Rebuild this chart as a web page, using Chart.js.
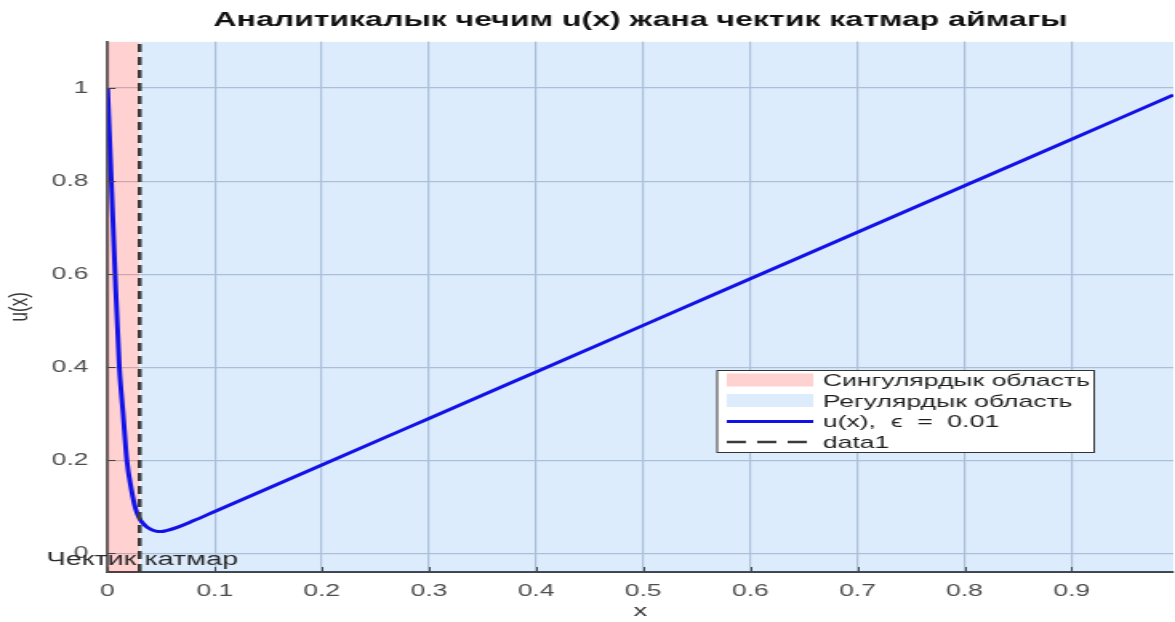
<!DOCTYPE html>
<html>
<head>
<meta charset="utf-8">
<script src="https://cdn.jsdelivr.net/npm/chart.js@4/dist/chart.umd.min.js"></script>
<style>
  html, body { margin: 0; padding: 0; background: #ffffff; overflow: hidden; }
</style>
</head>
<body>
<canvas id="c" width="734" height="622" style="display:block;width:1175px;height:622px;"></canvas>
<script>
// ---- data ----
const chartTitle = 'Аналитикалык чечим u(x) жана чектик катмар аймагы';
const xAxisTitle = 'x';
const yAxisTitle = 'u(x)';
const boundaryText = 'Чектик катмар';
const seriesLabels = ['Сингулярдык область', 'Регулярдык область', 'u(x),  ϵ  =  0.01', 'data1'];

const xValues = [0, 0.0035, 0.007, 0.011, 0.0145, 0.018, 0.022, 0.026, 0.03, 0.035, 0.04, 0.045, 0.05, 0.055, 0.065, 0.08, 0.1, 0.2, 0.3, 0.4, 0.5, 0.6, 0.7, 0.8, 0.9, 0.995];
const uValues = [1.0, 0.8, 0.6, 0.4, 0.3, 0.2, 0.14, 0.097, 0.074, 0.06, 0.052, 0.048, 0.047, 0.049, 0.056, 0.07, 0.09, 0.19, 0.29, 0.39, 0.49, 0.59, 0.69, 0.79, 0.89, 0.985];

const singularRange = [0, 0.03];
const regularRange = [0.03, 0.995];
const boundaryX = 0.03;
const xRange = [0, 0.995];
const yRange = [-0.04, 1.1];

const xTicks = [0, 0.1, 0.2, 0.3, 0.4, 0.5, 0.6, 0.7, 0.8, 0.9];
const xTickLabels = ['0', '0.1', '0.2', '0.3', '0.4', '0.5', '0.6', '0.7', '0.8', '0.9'];
const yTicks = [0, 0.2, 0.4, 0.6, 0.8, 1];
const yTickLabels = ['0', '0.2', '0.4', '0.6', '0.8', '1'];

// ---- styles ----
const FONT = "'Liberation Sans', Arial, Helvetica, sans-serif";
const pinkFill = 'rgba(255,0,0,0.18)';
const blueFill = 'rgba(30,130,240,0.15)';
const curveColor = '#1212e8';
const dashColor = '#3a3a3a';
const gridColor = '#c3ccd6';

const curveData = xValues.map((x, i) => ({ x: x, y: uValues[i] }));

const boxLegend = {
  id: 'boxLegend',
  afterDraw(chart, args, o) {
    const ctx = chart.ctx;
    ctx.save();
    ctx.fillStyle = '#ffffff';
    ctx.fillRect(o.left, o.top, o.width, o.height);
    ctx.strokeStyle = '#333';
    ctx.lineWidth = 1;
    ctx.strokeRect(o.left + 0.5, o.top + 0.5, o.width, o.height);
    ctx.font = '16.6px ' + FONT;
    ctx.textBaseline = 'middle';
    ctx.textAlign = 'left';
    chart.data.datasets.forEach((ds, i) => {
      const cy = o.top + o.firstRow + i * o.rowGap;
      const kind = ds.legendKind;
      if (kind === 'patch') {
        ctx.fillStyle = ds.backgroundColor;
        ctx.fillRect(o.swX, cy - 7, o.swW, 13);
      } else {
        ctx.strokeStyle = ds.borderColor;
        ctx.lineWidth = ds.borderWidth;
        ctx.setLineDash(kind === 'dash' ? [12, 7] : []);
        ctx.beginPath();
        ctx.moveTo(o.swX, cy);
        ctx.lineTo(o.swX + o.swW, cy);
        ctx.stroke();
        ctx.setLineDash([]);
      }
      ctx.fillStyle = '#1e1e1e';
      ctx.fillText(ds.label, o.textX, cy + 1);
    });
    ctx.restore();
  }
};

const annotate = {
  id: 'annotate',
  afterDatasetsDraw(chart) {
    const ctx = chart.ctx;
    const xs = chart.scales.x, ys = chart.scales.y;
    const ca = chart.chartArea;
    ctx.save();
    // inward tick marks
    ctx.strokeStyle = '#444';
    ctx.lineWidth = 1;
    ctx.beginPath();
    xTicks.forEach(v => {
      const px = Math.round(xs.getPixelForValue(v)) + 0.5;
      ctx.moveTo(px, ca.bottom);
      ctx.lineTo(px, ca.bottom - 5);
    });
    yTicks.forEach(v => {
      const py = Math.round(ys.getPixelForValue(v)) + 0.5;
      ctx.moveTo(ca.left, py);
      ctx.lineTo(ca.left + 5, py);
    });
    ctx.stroke();
    // boundary layer text
    ctx.font = '18px ' + FONT;
    ctx.fillStyle = '#2a2a2a';
    ctx.textAlign = 'center';
    ctx.textBaseline = 'alphabetic';
    ctx.fillText(boundaryText, xs.getPixelForValue(boundaryX) + 1.5, ys.getPixelForValue(0) + 12);
    ctx.restore();
  }
};

const canvas = document.getElementById('c');
new Chart(canvas, {
  type: 'line',
  data: {
    datasets: [
      {
        label: seriesLabels[0], legendKind: 'patch',
        data: [{ x: singularRange[0], y: yRange[1] }, { x: singularRange[1], y: yRange[1] }],
        fill: { value: yRange[0] }, backgroundColor: pinkFill, borderWidth: 0, borderColor: 'rgba(0,0,0,0)',
        pointRadius: 0, order: 4
      },
      {
        label: seriesLabels[1], legendKind: 'patch',
        data: [{ x: regularRange[0], y: yRange[1] }, { x: regularRange[1], y: yRange[1] }],
        fill: { value: yRange[0] }, backgroundColor: blueFill, borderWidth: 0, borderColor: 'rgba(0,0,0,0)',
        pointRadius: 0, order: 3
      },
      {
        label: seriesLabels[2], legendKind: 'line',
        data: curveData, borderColor: curveColor, borderWidth: 3, fill: false,
        pointRadius: 0, cubicInterpolationMode: 'monotone', order: 2
      },
      {
        label: seriesLabels[3], legendKind: 'dash',
        data: [{ x: boundaryX, y: yRange[0] }, { x: boundaryX, y: yRange[1] }],
        borderColor: dashColor, borderWidth: 2.5, borderDash: [8, 5], fill: false,
        pointRadius: 0, order: 1
      }
    ]
  },
  options: {
    responsive: false,
    devicePixelRatio: 1,
    animation: false,
    layout: { padding: { top: 0, right: 1, left: 0, bottom: 0 } },
    plugins: {
      legend: { display: false },
      tooltip: { enabled: false },
      title: {
        display: true, text: chartTitle, fullSize: false,
        font: { family: FONT, size: 20, weight: 'bold' }, color: '#111',
        padding: { top: 8, bottom: 9.5 }
      },
      boxLegend: { left: 447.5, top: 370, width: 235.5, height: 82, firstRow: 10.5, rowGap: 20.5, swX: 454, swW: 54, textX: 514 }
    },
    scales: {
      x: {
        type: 'linear', min: xRange[0], max: xRange[1],
        afterBuildTicks: s => { s.ticks = xTicks.map(v => ({ value: v })); },
        afterFit: s => { s.height = 50; },
        ticks: {
          autoSkip: false, maxRotation: 0, padding: 10, color: '#4d4d4d',
          font: { family: FONT, size: 16.5 },
          callback: (v) => { const i = xTicks.findIndex(t => Math.abs(t - v) < 1e-9); return i >= 0 ? xTickLabels[i] : ''; }
        },
        grid: { color: gridColor, lineWidth: 1.2, drawTicks: false },
        border: { display: true, color: '#444', width: 2 },
        title: { display: true, text: xAxisTitle, color: '#333', font: { family: FONT, size: 17 }, padding: { top: 0, bottom: 0 } }
      },
      y: {
        type: 'linear', min: yRange[0], max: yRange[1],
        afterBuildTicks: s => { s.ticks = yTicks.map(v => ({ value: v })); },
        afterFit: s => { s.width = 67.2; },
        ticks: {
          autoSkip: false, padding: 12, color: '#4d4d4d',
          font: { family: FONT, size: 16.5 },
          callback: (v) => { const i = yTicks.findIndex(t => Math.abs(t - v) < 1e-9); return i >= 0 ? yTickLabels[i] : ''; }
        },
        grid: { color: gridColor, lineWidth: 1.2, drawTicks: false },
        border: { display: true, color: '#666', width: 2 },
        title: { display: true, text: yAxisTitle, color: '#333', font: { family: FONT, size: 17 }, padding: { top: 2, bottom: 0 } }
      }
    }
  },
  plugins: [annotate, boxLegend]
});
canvas.style.width = '1175px';
canvas.style.height = '622px';
</script>
</body>
</html>
